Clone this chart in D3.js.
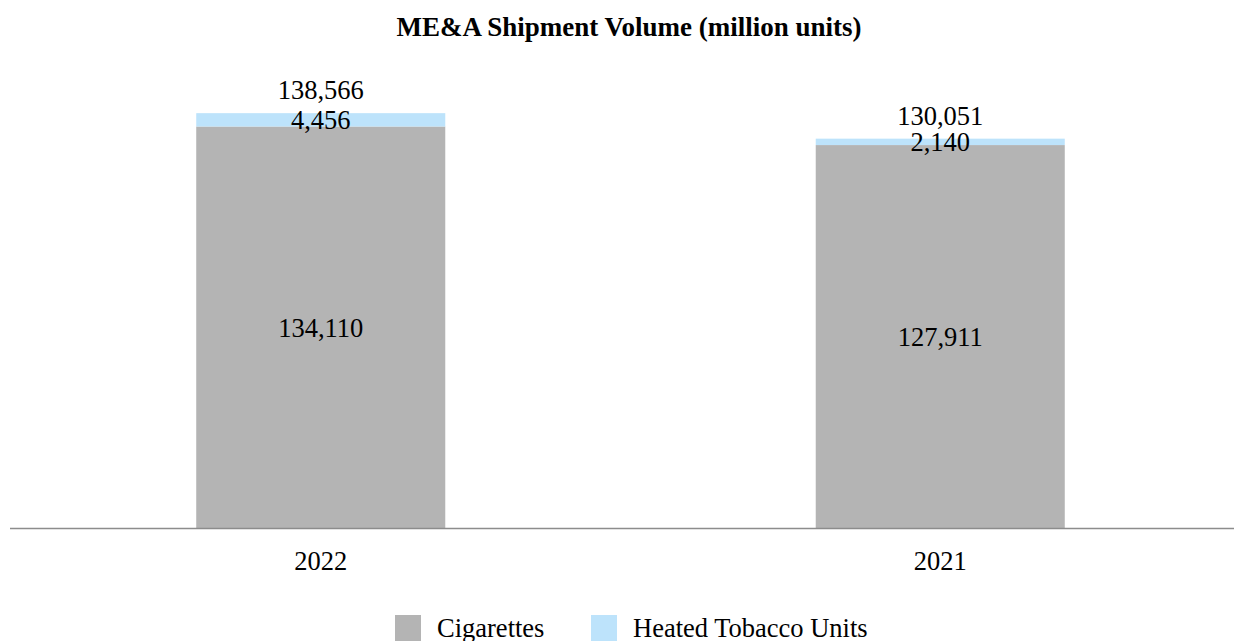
<!DOCTYPE html>
<html lang="en">
<head>
    <meta charset="UTF-8">
    <title>ME&amp;A Shipment Volume</title>
    <script src="https://d3js.org/d3.v7.min.js"></script>
    <style>
        body { margin: 0; background: #fff; }
        svg { display: block; font-family: "Liberation Serif", "Times New Roman", serif; }
    </style>
</head>
<body>
    <svg id="chart"></svg>
    <script>
        const years = ["2022", "2021"];
        const cigarettes = [134110, 127911];
        const heated = [4456, 2140];
        const totals = [138566, 130051];
        const seriesNames = ["Cigarettes", "Heated Tobacco Units"];
        const colors = ["#b4b4b4", "#bde3fb"];

        const width = 1244, height = 641;
        const baseY = 528;
        const fs = 26.5;
        const svg = d3.select("#chart").attr("width", width).attr("height", height);

        const x = d3.scaleBand().domain(years).range([11, 1250])
            .paddingInner(0.598).paddingOuter(0.299);
        const y = d3.scaleLinear().domain([0, 160000]).range([baseY, 49]);
        const fmt = d3.format(",");

        svg.append("text")
            .attr("x", 629).attr("y", 36)
            .attr("text-anchor", "middle")
            .attr("font-weight", "bold")
            .attr("font-size", 27)
            .text("ME&A Shipment Volume (million units)");

        const data = years.map((yr, i) => ({ year: yr, cig: cigarettes[i], htu: heated[i], total: totals[i] }));

        const g = svg.selectAll(".bar").data(data).enter().append("g");

        // cigarettes segment
        g.append("rect")
            .attr("x", d => x(d.year)).attr("width", x.bandwidth())
            .attr("y", d => y(d.cig)).attr("height", d => y(0) - y(d.cig))
            .attr("fill", colors[0]);
        // heated tobacco segment
        g.append("rect")
            .attr("x", d => x(d.year)).attr("width", x.bandwidth())
            .attr("y", d => y(d.cig + d.htu)).attr("height", d => y(d.cig) - y(d.cig + d.htu))
            .attr("fill", colors[1]);

        const cx = d => x(d.year) + x.bandwidth() / 2;

        g.append("text")
            .attr("x", cx).attr("y", d => (y(0) + y(d.cig)) / 2)
            .attr("dy", "0.35em").attr("text-anchor", "middle").attr("font-size", fs)
            .text(d => fmt(d.cig));
        g.append("text")
            .attr("x", cx).attr("y", d => (y(d.cig) + y(d.cig + d.htu)) / 2)
            .attr("dy", "0.35em").attr("text-anchor", "middle").attr("font-size", fs)
            .text(d => fmt(d.htu));
        g.append("text")
            .attr("x", cx).attr("y", d => y(d.total) - 14)
            .attr("text-anchor", "middle").attr("font-size", fs)
            .text(d => fmt(d.total));

        // axis
        svg.append("line")
            .attr("x1", 10).attr("x2", 1234)
            .attr("y1", baseY + 0.5).attr("y2", baseY + 0.5)
            .attr("stroke", "#8c8c8c").attr("stroke-width", 1.5);

        svg.selectAll(".cat").data(years).enter().append("text")
            .attr("x", d => x(d) + x.bandwidth() / 2).attr("y", 570)
            .attr("text-anchor", "middle").attr("font-size", fs)
            .text(d => d);

        // legend
        const legendX = [395, 591];
        seriesNames.forEach((name, i) => {
            svg.append("rect").attr("x", legendX[i]).attr("y", 615)
                .attr("width", 26).attr("height", 26).attr("fill", colors[i]);
            svg.append("text").attr("x", legendX[i] + 42).attr("y", 637)
                .attr("font-size", fs).text(name);
        });
    </script>
</body>
</html>
